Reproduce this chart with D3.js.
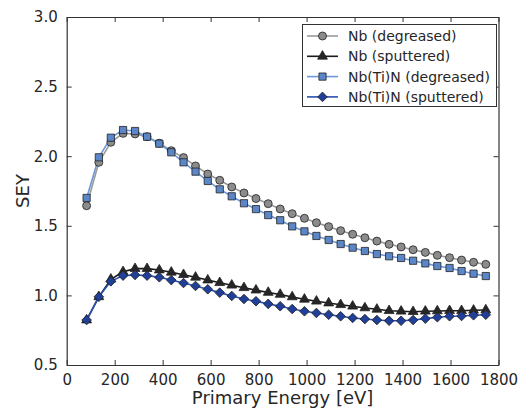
<!DOCTYPE html>
<html><head><meta charset="utf-8">
<script src="https://cdn.jsdelivr.net/npm/d3@7"></script>
<style>body{margin:0;background:#fff}svg{display:block}text{font-family:"DejaVu Sans",sans-serif;fill:#262626}</style>
</head><body><svg id="c" width="527" height="410"></svg>
<script>
const energy = [83,134,184,235,285,335,386,436,487,537,588,638,688,739,789,840,890,940,991,1041,1092,1142,1192,1243,1293,1344,1394,1444,1495,1545,1596,1646,1696,1747];
const nbDegreased = [1.644,1.956,2.10,2.164,2.16,2.14,2.093,2.04,1.99,1.93,1.872,1.827,1.779,1.736,1.696,1.659,1.621,1.587,1.554,1.522,1.494,1.465,1.439,1.414,1.39,1.367,1.348,1.328,1.309,1.288,1.271,1.254,1.238,1.223];
const nbSputtered = [0.823,0.99,1.116,1.17,1.192,1.192,1.182,1.166,1.149,1.13,1.11,1.091,1.073,1.055,1.038,1.021,1.007,0.989,0.972,0.958,0.945,0.933,0.922,0.91,0.90,0.89,0.886,0.883,0.886,0.888,0.89,0.89,0.893,0.895];
const nbtinDegreased = [1.70,1.992,2.133,2.188,2.181,2.14,2.09,2.028,1.956,1.889,1.822,1.762,1.712,1.662,1.62,1.577,1.54,1.496,1.46,1.427,1.398,1.369,1.343,1.319,1.297,1.281,1.269,1.249,1.23,1.211,1.197,1.175,1.156,1.139];
const nbtinSputtered = [0.823,0.99,1.101,1.142,1.147,1.142,1.13,1.11,1.089,1.068,1.044,1.02,0.996,0.974,0.958,0.939,0.922,0.902,0.886,0.874,0.861,0.85,0.838,0.83,0.823,0.818,0.818,0.823,0.833,0.843,0.85,0.852,0.857,0.861];
const xTicks = [0,200,400,600,800,1000,1200,1400,1600,1800];
const yTicks = [0.5,1.0,1.5,2.0,2.5,3.0];
const seriesNames = ["Nb (degreased)","Nb (sputtered)","Nb(Ti)N (degreased)","Nb(Ti)N (sputtered)"];

const series = [
  {name:seriesNames[0], values:nbDegreased, line:"#9a9a9a", fill:"#8c8c8c", sym:d3.symbolCircle, size:50, rot:0},
  {name:seriesNames[1], values:nbSputtered, line:"#1a1a1a", fill:"#262626", sym:d3.symbolTriangle, size:42, rot:0},
  {name:seriesNames[2], values:nbtinDegreased, line:"#6f98d8", fill:"#5b86c8", sym:d3.symbolSquare, size:52, rot:0},
  {name:seriesNames[3], values:nbtinSputtered, line:"#2a50b0", fill:"#1f3f99", sym:d3.symbolSquare, size:46, rot:45}
];

const svg = d3.select("#c");
const L=66.7, R=498.5, T=17, B=365;
const x = d3.scaleLinear().domain([0,1800]).range([L,R]);
const y = d3.scaleLinear().domain([0.5,3.0]).range([B,T]);

series.forEach(s=>{
  const pts = energy.map((e,i)=>[e,s.values[i]]);
  svg.append("path").attr("d", d3.line().x(d=>x(d[0])).y(d=>y(d[1]))(pts))
    .attr("fill","none").attr("stroke",s.line).attr("stroke-width",1.6);
});
series.forEach(s=>{
  const pts = energy.map((e,i)=>[e,s.values[i]]);
  svg.append("g").selectAll("path").data(pts).join("path")
    .attr("transform",d=>`translate(${x(d[0])},${y(d[1])}) rotate(${s.rot})`)
    .attr("d", d3.symbol().type(s.sym).size(s.size))
    .attr("fill",s.fill).attr("stroke","#222").attr("stroke-width",0.8);
});

const axColor="#333";
const gx = svg.append("g").attr("transform",`translate(0,${B})`)
  .call(d3.axisBottom(x).tickValues(xTicks).tickFormat(d3.format("d")).tickSizeInner(-5).tickSizeOuter(0).tickPadding(9));
const gxt = svg.append("g").attr("transform",`translate(0,${T})`)
  .call(d3.axisTop(x).tickValues(xTicks).tickFormat("").tickSizeInner(-5).tickSizeOuter(0));
const gy = svg.append("g").attr("transform",`translate(${L},0)`)
  .call(d3.axisLeft(y).tickValues(yTicks).tickFormat(d3.format(".1f")).tickSizeInner(-5).tickSizeOuter(0).tickPadding(9));
const gyr = svg.append("g").attr("transform",`translate(${R},0)`)
  .call(d3.axisRight(y).tickValues(yTicks).tickFormat("").tickSizeInner(-5).tickSizeOuter(0));
[gx,gxt,gy,gyr].forEach(g=>{
  g.select(".domain").attr("stroke",axColor).attr("stroke-width",1.2);
  g.selectAll(".tick line").attr("stroke",axColor).attr("stroke-width",1);
  g.selectAll("text").attr("font-size",15).attr("font-family","DejaVu Sans").attr("fill","#262626");
});

svg.append("text").attr("x",(L+R)/2).attr("y",404).attr("text-anchor","middle").attr("font-size",18).text("Primary Energy [eV]");
svg.append("text").attr("transform",`translate(29,${(T+B)/2}) rotate(-90)`).attr("text-anchor","middle").attr("font-size",18).text("SEY");

const lg = svg.append("g");
lg.append("rect").attr("x",302.5).attr("y",24.5).attr("width",194).attr("height",82).attr("fill","#fff").attr("stroke","#333").attr("stroke-width",1);
series.forEach((s,i)=>{
  const yy = 36 + i*20.3;
  lg.append("line").attr("x1",307).attr("x2",338).attr("y1",yy).attr("y2",yy).attr("stroke",s.line).attr("stroke-width",1.6);
  lg.append("path").attr("transform",`translate(322.5,${yy}) rotate(${s.rot})`).attr("d",d3.symbol().type(s.sym).size(s.size)).attr("fill",s.fill).attr("stroke","#222").attr("stroke-width",0.8);
  lg.append("text").attr("x",348).attr("y",yy+5).attr("font-size",14).text(s.name);
});
</script></body></html>
